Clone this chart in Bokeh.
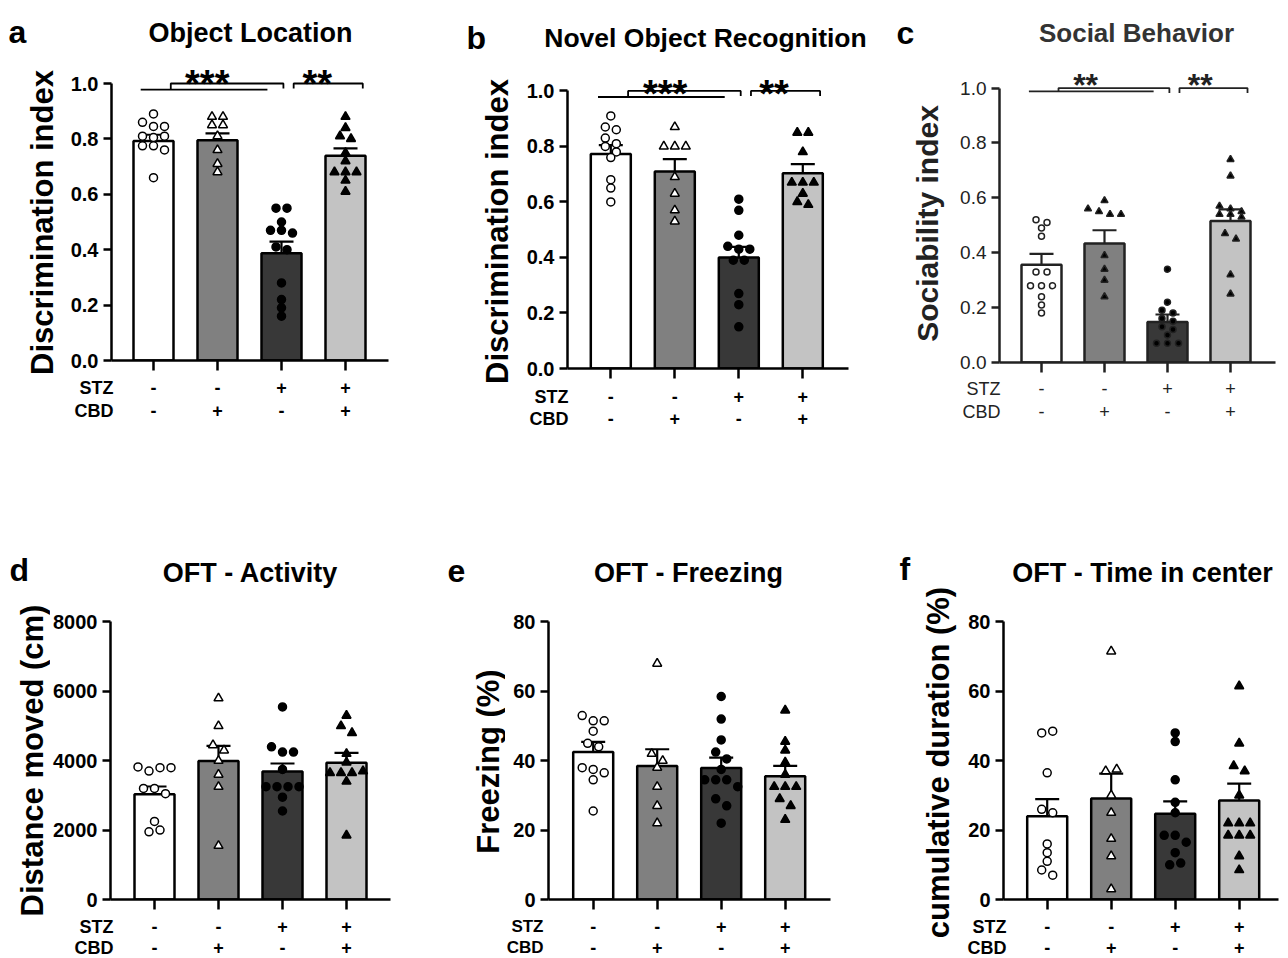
import math
from bokeh.plotting import figure
from bokeh.models import (Range1d, LinearAxis, FixedTicker, Whisker, TeeHead,
                          ColumnDataSource, PrintfTickFormatter, Plot)
from bokeh.core.properties import value
from bokeh.layouts import row, column
from bokeh.embed import file_html
from bokeh.resources import INLINE

FONT = "Liberation Sans"
NOALIGN = {"frame_align": False} if "frame_align" in Plot.properties() else {}

# ---------------- data ----------------
groups = [1, 2, 3, 4]
stz_signs = ["-", "-", "+", "+"]
cbd_signs = ["-", "+", "-", "+"]

a_mean = [0.792, 0.795, 0.387, 0.739]
a_sem = [0.023, 0.025, 0.042, 0.027]
a_pts = [[0.89, 0.86, 0.845, 0.845, 0.81, 0.805, 0.81, 0.775, 0.775, 0.76, 0.66],
         [0.88, 0.88, 0.85, 0.85, 0.81, 0.76, 0.71, 0.68],
         [0.55, 0.55, 0.50, 0.47, 0.47, 0.46, 0.41, 0.40, 0.28, 0.22, 0.19, 0.16],
         [0.88, 0.84, 0.81, 0.80, 0.75, 0.72, 0.68, 0.68, 0.68, 0.65, 0.61]]

b_mean = [0.773, 0.710, 0.400, 0.703]
b_sem = [0.032, 0.044, 0.038, 0.033]
b_pts = [[0.91, 0.87, 0.86, 0.83, 0.81, 0.80, 0.78, 0.76, 0.68, 0.65, 0.60],
         [0.87, 0.80, 0.80, 0.80, 0.69, 0.63, 0.57, 0.53],
         [0.61, 0.57, 0.48, 0.44, 0.43, 0.43, 0.39, 0.39, 0.27, 0.23, 0.15],
         [0.85, 0.85, 0.78, 0.67, 0.67, 0.67, 0.63, 0.60, 0.59]]

c_mean = [0.356, 0.434, 0.148, 0.516]
c_sem = [0.040, 0.048, 0.027, 0.042]
c_pts = [[0.52, 0.51, 0.49, 0.46, 0.33, 0.33, 0.28, 0.28, 0.28, 0.24, 0.21, 0.18],
         [0.59, 0.56, 0.55, 0.54, 0.54, 0.39, 0.34, 0.30, 0.24],
         [0.34, 0.22, 0.19, 0.18, 0.16, 0.15, 0.13, 0.12, 0.10, 0.07, 0.07, 0.07],
         [0.74, 0.68, 0.57, 0.56, 0.55, 0.54, 0.54, 0.53, 0.47, 0.45, 0.32, 0.25]]

d_mean = [3030, 3990, 3690, 3940]
d_sem = [226, 437, 230, 283]
d_pts = [[3820, 3700, 3800, 3800, 3200, 3200, 3050, 2250, 1950, 2000],
         [5800, 5000, 4450, 4300, 4000, 3600, 3250, 1550],
         [5550, 4400, 4250, 4250, 3750, 3250, 3250, 3250, 3250, 2950, 2550],
         [5300, 5000, 4800, 4200, 3950, 3650, 3650, 3650, 3700, 3400, 1850]]

e_mean = [42.5, 38.5, 37.9, 35.5]
e_sem = [2.9, 4.8, 3.0, 3.0]
e_pts = [[53, 51.5, 51.5, 48.5, 45, 44, 38, 37.5, 36.5, 34.5, 25.5],
         [68, 42, 40, 38, 32.5, 27, 22],
         [58.5, 52, 46, 42.5, 40.5, 37.5, 34.5, 34.5, 34.5, 32.5, 29, 27, 22],
         [54.5, 45.5, 43, 39.5, 36, 32.5, 32.5, 32.5, 29, 27, 23]]

f_mean = [24.0, 29.1, 24.7, 28.5]
f_sem = [4.9, 7.2, 3.6, 4.9]
f_pts = [[48, 48.5, 36.5, 26, 25, 16, 13.5, 11, 8.5, 7],
         [71.5, 37, 37.5, 30, 25, 17.5, 12.5, 3],
         [48, 45.5, 34.5, 28, 25, 18.5, 18.5, 16.5, 13.5, 10, 10.5],
         [61.5, 45, 38.5, 37, 30, 22, 22, 22, 18.5, 18.5, 18.5, 12.5, 8.5]]

unit_ticks = [0.0, 0.2, 0.4, 0.6, 0.8, 1.0]
dist_ticks = [0, 2000, 4000, 6000, 8000]
pct_ticks = [0, 20, 40, 60, 80]

# ---------------- styles ----------------
bar_fill = ["#ffffff", "#808080", "#383838", "#c3c3c3"]
marker_kind = ["circle", "triangle", "circle", "triangle"]
marker_fill = ["white", "white", "black", "black"]


def spread(vals, tol, step):
    order = sorted(range(len(vals)), key=lambda i: -vals[i])
    rows = []
    for i in order:
        if rows and abs(vals[rows[-1][0]] - vals[i]) < tol:
            rows[-1].append(i)
        else:
            rows.append([i])
    offs = [0.0] * len(vals)
    for r in rows:
        n = len(r)
        for k, i in enumerate(sorted(r)):
            offs[i] = (k - (n - 1) / 2) * step
    return offs


def style(f):
    f.outline_line_color = None
    f.grid.visible = False
    f.background_fill_color = "white"
    f.border_fill_color = "white"
    return f


def blank(width, height, xr, yr):
    f = figure(width=width, height=height, x_range=xr, y_range=yr, min_border=0,
               x_axis_location=None, y_axis_location=None, output_backend="svg",
               toolbar_location=None, **NOALIGN)
    return style(f)


def make_panel(P):
    bx, by, bw, bh = P["box"]
    sr = P["strip_right"]
    ws = sr - bx
    wr = bw - ws
    fl, fr = P["frame_x"]
    y0, ppu, T = P["y0"], P["ppu"], P["ftop"]
    sp = P["spacing"]
    ink = P.get("ink", "black")
    tick_style = P.get("tick_style", "bold")
    row_size = P.get("row_size", "18px")

    hh = T - 10 - by
    mh = 10 + (y0 - T) + 14
    th = bh - hh - mh
    ty = by + hh + mh
    xs = 1 - (P["first"] - fl) / sp
    xe = xs + (fr - fl) / sp
    yend = (y0 - T) / ppu

    def X(px):
        return xs + (px - fl) / sp

    def Y(py):
        return (y0 - py) / ppu

    # ---- left strip: panel letter and y-axis title ----
    strip = blank(ws, bh, Range1d(bx, sr), Range1d(-(by + bh), -by))
    lx, lby, letter = P["letter"]
    strip.text(x=[lx], y=[-lby], text=[letter], text_font=value(FONT), text_font_style="bold",
               text_font_size="32px", text_align="left", text_baseline="alphabetic",
               text_color="black")
    cx, cy = P["ylab_pos"]
    strip.text(x=[cx], y=[-cy], text=[P["ylabel"]], angle=math.pi / 2, text_font=value(FONT),
               text_font_style="bold", text_font_size=P["ylab_size"], text_align="center",
               text_baseline="middle", text_color=ink)

    # ---- header: title ----
    head = blank(wr, hh, Range1d(sr, bx + bw), Range1d(-(by + hh), -by))
    tx, tby, title = P["title"]
    head.text(x=[tx], y=[-tby], text=[title], text_font=value(FONT), text_font_style="bold",
              text_font_size=P.get("title_size", "27px"), text_align="center",
              text_baseline="alphabetic", text_color=P.get("title_ink", "black"))

    # ---- main plot ----
    p = figure(width=wr, height=mh, x_range=Range1d(xs, xe), y_range=Range1d(0, yend),
               x_axis_location=None, y_axis_location=None, output_backend="svg",
               toolbar_location=None, min_border_left=fl - sr, min_border_right=bx + bw - fr,
               min_border_top=10, min_border_bottom=14, **NOALIGN)
    style(p)

    yt = P["yticks"]
    yax = LinearAxis(ticker=FixedTicker(ticks=yt), bounds=(0, yt[-1]),
                     formatter=PrintfTickFormatter(format=P["yfmt"]),
                     major_label_text_font=FONT, major_label_text_font_style=tick_style,
                     major_label_text_font_size=P["tick_size"], major_label_text_color=ink,
                     major_label_standoff=5, major_tick_in=0, major_tick_out=8,
                     major_tick_line_width=2.5, axis_line_width=2.5,
                     axis_line_color=ink, major_tick_line_color=ink,
                     minor_tick_line_color=None)
    p.add_layout(yax, "left")
    xax = LinearAxis(ticker=FixedTicker(ticks=groups),
                     major_label_overrides={g: "" for g in groups},
                     major_label_text_font_size="0px", major_label_standoff=0,
                     major_tick_in=0, major_tick_out=10,
                     major_tick_line_width=2.5, axis_line_width=2.5,
                     axis_line_color=ink, major_tick_line_color=ink,
                     minor_tick_line_color=None)
    p.add_layout(xax, "below")

    mean, sem, pts = P["mean"], P["sem"], P["pts"]
    p.vbar(x=groups, top=mean, bottom=0, width=40 / sp, fill_color=bar_fill,
           line_color=ink, line_width=2.5)

    for gi in range(4):
        vals = pts[gi]
        offs = spread(vals, 7.5 / ppu, 11 / sp)
        mk = marker_kind[gi]
        fc = marker_fill[gi]
        if P.get("filled_tri") and gi == 1:
            fc = "black"
        size = P["msize"] + (1 if mk == "triangle" else 0)
        p.scatter(x=[groups[gi] + o for o in offs], y=vals, marker=mk, size=size,
                  fill_color=fc, line_color=ink, line_width=1.5)

    src = ColumnDataSource(dict(x=groups, upper=[m + s for m, s in zip(mean, sem)],
                                lower=[m - s for m, s in zip(mean, sem)]))
    p.add_layout(Whisker(source=src, base="x", upper="upper", lower="lower",
                         line_color=ink, line_width=2.2,
                         upper_head=TeeHead(size=24, line_width=2.2, line_color=ink),
                         lower_head=TeeHead(size=24, line_width=2.2, line_color=ink)))

    if P.get("sig"):
        top = yt[-1]
        lo = top * P["sig_low"]
        dn = top * 0.982
        g1, g2, g3, g4 = groups
        p.line(x=[g1 - 0.20, g3 - 0.22], y=[lo, lo], line_color=ink, line_width=1.8)
        p.line(x=[g2 - 0.73, g2 - 0.73, g3 + 0.03, g3 + 0.03], y=[lo, top, top, dn],
               line_color=ink, line_width=1.8)
        p.line(x=[g3 + 0.19, g3 + 0.19, g4 + 0.27, g4 + 0.27], y=[dn, top, top, dn],
               line_color=ink, line_width=1.8)
        sx = [s[0] for s in P["sig"]]
        stxt = [s[1] for s in P["sig"]]
        p.text(x=sx, y=[Y(P["star_base"])] * len(sx), text=stxt, text_align="center",
               text_baseline="alphabetic", text_font=value(FONT), text_font_style="bold",
               text_font_size=P["star_size"], text_color=ink)

    # ---- treatment table below the axis ----
    xs_t = xs - (fl - sr) / sp
    tab = blank(wr, th, Range1d(xs_t, xs_t + wr / sp), Range1d(-(ty + th), -ty))
    rx, r1, r2 = P["rownames"]
    for signs, ry, name in ((stz_signs, r1, "STZ"), (cbd_signs, r2, "CBD")):
        tab.text(x=groups, y=[-ry] * 4, text=signs, text_align="center", text_baseline="middle",
                 text_font=value(FONT), text_font_style=tick_style, text_font_size="18px",
                 text_color=ink)
        tab.text(x=[X(rx)], y=[-ry], text=[name], text_align="right", text_baseline="middle",
                 text_font=value(FONT), text_font_style=tick_style, text_font_size=row_size,
                 text_color=ink)

    return row(strip, column(head, p, tab))


panels = [
    dict(box=(0, 0, 438, 470), strip_right=60, frame_x=(111, 388), y0=360, ppu=277, ftop=68,
         first=153, spacing=64, yticks=unit_ticks, yfmt="%.1f", ylabel="Discrimination index",
         ylab_pos=(42, 222), ylab_size="31px", tick_size="20px",
         mean=a_mean, sem=a_sem, pts=a_pts, msize=8, sig_low=0.978,
         sig=[(1.84, "***"), (3.56, "**")], star_base=83, star_size="38px",
         letter=(8, 31, "a"), title=(250, 32, "Object Location"), rownames=(113, 387, 410)),
    dict(box=(438, 0, 430, 470), strip_right=516, frame_x=(567, 848), y0=368, ppu=277.6,
         ftop=76, first=610.3, spacing=64, yticks=unit_ticks, yfmt="%.1f",
         ylabel="Discrimination index", ylab_pos=(497, 231), ylab_size="31px", tick_size="20px",
         mean=b_mean, sem=b_sem, pts=b_pts, msize=8, sig_low=0.978,
         sig=[(1.85, "***"), (3.55, "**")], star_base=93, star_size="38px",
         letter=(466, 37, "b"), title=(705, 37, "Novel Object Recognition"),
         title_size="26.5px", rownames=(568, 396, 418)),
    dict(box=(868, 0, 420, 470), strip_right=945, frame_x=(999, 1275), y0=362, ppu=274.4,
         ftop=68, first=1041, spacing=63, yticks=unit_ticks, yfmt="%.1f",
         ylabel="Sociability index", ylab_pos=(927, 223), ylab_size="30px", tick_size="19px",
         mean=c_mean, sem=c_sem, pts=c_pts, msize=6, sig_low=0.988, filled_tri=True,
         sig=[(1.70, "**"), (3.52, "**")], star_base=84, star_size="32px",
         ink="#222222", tick_style="normal", title_ink="#333333", title_size="26px",
         letter=(896, 32, "c"), title=(1136, 32, "Social Behavior"), rownames=(1000, 388, 411)),
    dict(box=(0, 470, 438, 488), strip_right=50, frame_x=(110, 390), y0=899,
         ppu=277.6 / 8000, ftop=612, first=154, spacing=64, yticks=dist_ticks, yfmt="%d",
         ylabel="Distance moved (cm)", ylab_pos=(32, 760), ylab_size="31px", tick_size="20px",
         mean=d_mean, sem=d_sem, pts=d_pts, msize=8,
         letter=(9, 569, "d"), title=(250, 572, "OFT - Activity"), rownames=(113, 926, 947)),
    dict(box=(438, 470, 430, 488), strip_right=505, frame_x=(548, 830), y0=899,
         ppu=277.6 / 80, ftop=612, first=592.7, spacing=64, yticks=pct_ticks, yfmt="%d",
         ylabel="Freezing (%)", ylab_pos=(488, 761), ylab_size="31px", tick_size="20px",
         mean=e_mean, sem=e_sem, pts=e_pts, msize=8, row_size="17px",
         letter=(447, 570, "e"), title=(688, 572, "OFT - Freezing"), rownames=(543, 926, 947)),
    dict(box=(868, 470, 420, 488), strip_right=958, frame_x=(1003, 1278), y0=899,
         ppu=277.6 / 80, ftop=612, first=1046.7, spacing=64, yticks=pct_ticks, yfmt="%d",
         ylabel="cumulative duration (%)", ylab_pos=(938, 762), ylab_size="31px",
         tick_size="20px", mean=f_mean, sem=f_sem, pts=f_pts, msize=8,
         letter=(899, 568, "f"), title=(1142, 572, "OFT - Time in center"),
         rownames=(1006, 926, 947)),
]

cols = [make_panel(P) for P in panels]
layout = column(row(cols[0], cols[1], cols[2]), row(cols[3], cols[4], cols[5]))

open("out.html", "w").write(file_html(layout, INLINE))
